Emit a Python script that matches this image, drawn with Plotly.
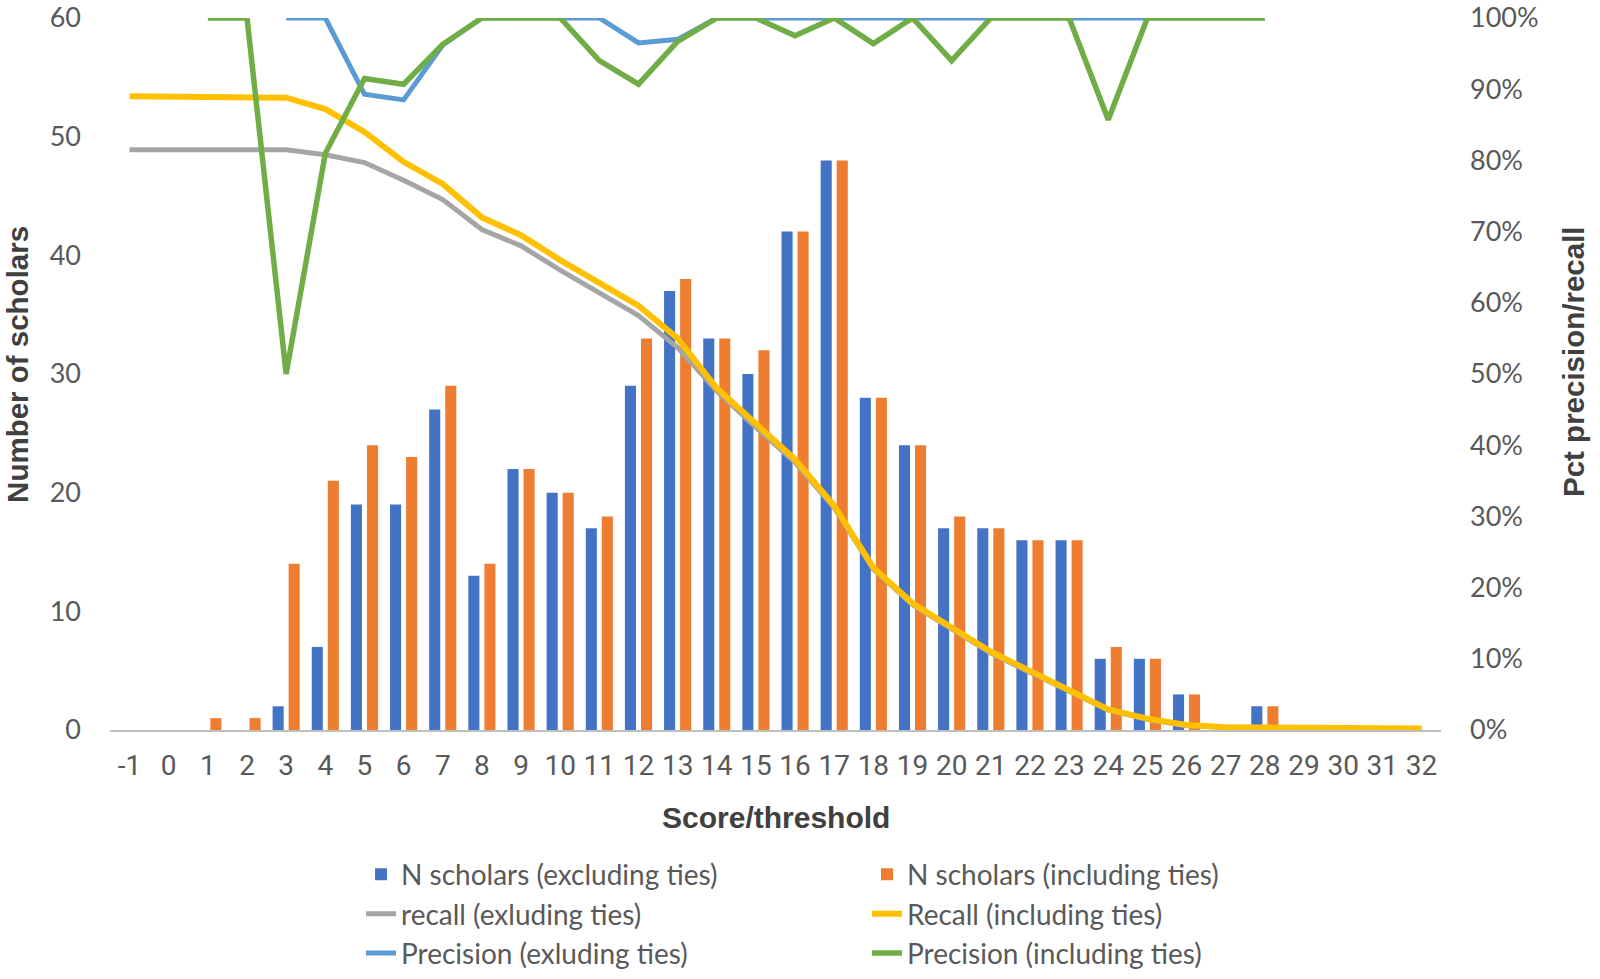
import plotly.graph_objects as go

categories = [str(v) for v in range(-1, 33)]

n_excl = [0, 0, 0, 0, 2, 7, 19, 19, 27, 13, 22, 20, 17, 29, 37, 33, 30, 42, 48, 28,
          24, 17, 17, 16, 16, 6, 6, 3, 0, 2, 0, 0, 0, 0]
n_incl = [0, 0, 1, 1, 14, 21, 24, 23, 29, 14, 22, 20, 18, 33, 38, 33, 32, 42, 48, 28,
          24, 18, 17, 16, 16, 7, 6, 3, 0, 2, 0, 0, 0, 0]

recall_excl = [0.815, 0.815, 0.815, 0.815, 0.815, 0.808, 0.797, 0.772, 0.745, 0.703,
               0.68, 0.646, 0.613, 0.582, 0.537, 0.476, 0.425, 0.376, 0.312, 0.226,
               0.176, 0.141, 0.108, 0.081, 0.055, 0.028, 0.015, 0.006, 0.004, 0.004,
               0.002, 0.002, 0.002, 0.002]
recall_incl = [0.89, 0.89, 0.89, 0.888, 0.888, 0.872, 0.84, 0.798, 0.767, 0.72,
               0.695, 0.66, 0.628, 0.596, 0.55, 0.48, 0.43, 0.38, 0.315, 0.228,
               0.178, 0.143, 0.11, 0.083, 0.057, 0.029, 0.016, 0.007, 0.004, 0.004,
               0.002, 0.002, 0.002, 0.002]
precision_excl = [None, None, None, None, 1.0, 1.0, 0.893, 0.885, 0.962, 1.0,
                  1.0, 1.0, 1.0, 0.965, 0.97, 1.0, 1.0, 1.0, 1.0, 1.0,
                  1.0, 1.0, 1.0, 1.0, 1.0, 1.0, 1.0, 1.0, 1.0, 1.0,
                  None, None, None, None]
precision_incl = [None, None, 1.0, 1.0, 0.50, 0.81, 0.915, 0.907, 0.963, 1.0,
                  1.0, 1.0, 0.94, 0.907, 0.967, 1.0, 1.0, 0.975, 1.0, 0.964,
                  1.0, 0.94, 1.0, 1.0, 1.0, 0.857, 1.0, 1.0, 1.0, 1.0,
                  None, None, None, None]

BLUE = "#4472C4"
ORANGE = "#ED7D31"
GRAY = "#A5A5A5"
YELLOW = "#FFC000"
LBLUE = "#5B9BD5"
GREEN = "#70AD47"
TXT = "#595959"
TITLE = "#404040"
TICKFONT = "Roboto, Liberation Sans, sans-serif"
NUMFONT = "Lato, sans-serif"
BOLDFONT = "Liberation Sans, Arial, sans-serif"

fig = go.Figure()
fig.add_trace(go.Bar(x=categories, y=n_excl, name="N scholars (excluding ties)",
                     marker=dict(color=BLUE, line=dict(width=0))))
fig.add_trace(go.Bar(x=categories, y=n_incl, name="N scholars (including ties)",
                     marker=dict(color=ORANGE, line=dict(width=0))))
fig.add_trace(go.Scatter(x=categories, y=recall_excl, name="recall (exluding ties)",
                         mode="lines", line=dict(color=GRAY, width=5), yaxis="y2"))
fig.add_trace(go.Scatter(x=categories, y=recall_incl, name="Recall (including ties)",
                         mode="lines", line=dict(color=YELLOW, width=6), yaxis="y2"))
fig.add_trace(go.Scatter(x=categories, y=precision_excl, name="Precision (exluding ties)",
                         mode="lines", line=dict(color=LBLUE, width=5), yaxis="y2"))
fig.add_trace(go.Scatter(x=categories, y=precision_incl, name="Precision (including ties)",
                         mode="lines", line=dict(color=GREEN, width=5.5), yaxis="y2"))

fig.update_layout(
    width=1600, height=979,
    margin=dict(l=110, r=159, t=18, b=249, autoexpand=False),
    paper_bgcolor="white", plot_bgcolor="white",
    barmode="group", bargap=0.18, bargroupgap=0.31,
    showlegend=True,
    legend=dict(orientation="h", x=0.1886, xanchor="left", y=-0.168, yanchor="top",
                entrywidth=461, font=dict(family=NUMFONT, size=28, color=TXT),
                traceorder="normal", bgcolor="rgba(0,0,0,0)", tracegroupgap=0),
    xaxis=dict(type="category", showgrid=False, zeroline=False,
               showline=True, linecolor="#BFBFBF", linewidth=1.5,
               ticks="", tickfont=dict(family=TICKFONT, size=28, color=TXT),
               ticklabelstandoff=10),
    yaxis=dict(range=[0, 60], dtick=10, showgrid=False, zeroline=False, showline=False,
               ticks="", tickfont=dict(family=NUMFONT, size=27, color=TXT),
               ticklabelstandoff=28, ticklabeloverflow="allow"),
    yaxis2=dict(range=[0, 1], dtick=0.1, tickformat=".0%", overlaying="y", side="right",
                showgrid=False, zeroline=False, showline=False, ticks="",
                tickfont=dict(family=NUMFONT, size=27, color=TXT),
                ticklabelstandoff=28, ticklabeloverflow="allow"),
    annotations=[
        dict(text="<b>Number of scholars</b>", xref="paper", yref="paper",
             x=-0.069, y=0.513, xanchor="center", yanchor="middle", textangle=-90,
             showarrow=False, font=dict(family=BOLDFONT, size=29.5, color=TITLE)),
        dict(text="<b>Pct precision/recall</b>", xref="paper", yref="paper",
             x=1.1, y=0.517, xanchor="center", yanchor="middle", textangle=-90,
             showarrow=False, font=dict(family=BOLDFONT, size=29.5, color=TITLE)),
        dict(text="<b>Score/threshold</b>", xref="paper", yref="paper",
             x=0.5, y=-0.123, xanchor="center", yanchor="middle",
             showarrow=False, font=dict(family=BOLDFONT, size=30, color=TITLE)),
    ],
)

fig.write_html("out.html", config={"displayModeBar": False},
               post_script="document.body.style.margin='0';")
